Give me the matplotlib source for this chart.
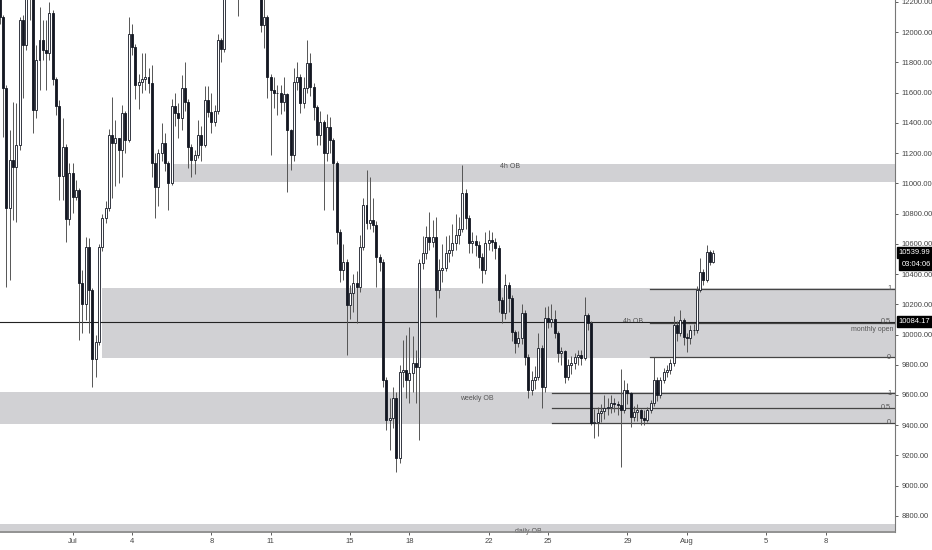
import numpy as np
import matplotlib
matplotlib.use("Agg")
import matplotlib.pyplot as plt

plt.rcParams['font.family'] = ['Liberation Sans', 'DejaVu Sans']

# 4h candles, first bar opens Jun 27 08:00; x is days since Jul 1 00:00
first_open = 12450
closes = [
    12100, 11630, 10836, 11154, 11107, 11253, 12079, 11914, 12250, 12300,
    11484, 11815, 11947, 11881, 11860, 12126, 11689, 11511, 11048, 11240,
    10764, 11068, 10909, 10955, 10341, 10202, 10579, 10294, 9838, 9951,
    10579, 10770, 10836, 11319, 11266, 11300, 11220, 11464, 11286, 11987,
    11900, 11650, 11670, 11690, 11700, 11660, 11134, 10975, 11200, 11266,
    11134, 11002, 11511, 11464, 11431, 11630, 11537, 11240, 11154, 11187,
    11319, 11253, 11551, 11471, 11405, 11478, 11947, 11890, 12300, 12450,
    12350, 12500, 12350, 12600, 12800, 12900, 12500, 12600, 12350, 12046,
    12099, 11703, 11617, 11600, 11597, 11537, 11590, 11352, 11187, 11670,
    11703, 11531, 11630, 11795, 11636, 11504, 11319, 11405, 11200, 11372,
    11286, 11134, 10678, 10426, 10479, 10195, 10274, 10341, 10314, 10579,
    10856, 10737, 10757, 10724, 10512, 10480, 9699, 9435, 9448, 9580,
    9183, 9752, 9765, 9699, 9745, 9812, 9785, 10473, 10539, 10645,
    10612, 10645, 10294, 10426, 10440, 10539, 10559, 10605, 10658, 10700,
    10936, 10770, 10605, 10618, 10592, 10512, 10426, 10605, 10625, 10612,
    10572, 10228, 10142, 10327, 10241, 10017, 9944, 9980, 10142, 9851,
    9633, 9699, 9719, 9911, 9653, 10109, 10083, 10100, 10010, 9878,
    9890, 9719, 9798, 9812, 9851, 9864, 9845, 10129, 10076, 9415,
    9421, 9481, 9494, 9514, 9520, 9547, 9540, 9534, 9501, 9633,
    9613, 9455, 9488, 9501, 9448, 9435, 9501, 9547, 9699, 9600,
    9699, 9752, 9765, 9812, 10063, 10010, 10096, 9983, 9977, 10030,
    10030, 10294, 10413, 10360, 10546, 10480, 10540,
]
highs = [
    12600, 12110, 11650, 11350, 11535, 11530, 12100, 12110, 12300, 12500,
    12350, 11914, 12166, 12079, 12079, 12199, 12146, 11700, 11551, 11431,
    11260, 11134, 11134, 11022, 10970, 10426, 10645, 10638, 10310, 10000,
    10600, 10800, 10880, 11360, 11570, 11420, 11300, 11520, 11480, 12100,
    12050, 11920, 11720, 11860, 11860, 11760, 11780, 11200, 11230, 11400,
    11330, 11150, 11560, 11600, 11530, 11715, 11800, 11560, 11260, 11220,
    11420, 11380, 11640, 11640, 11600, 11520, 11990, 11960, 12350, 12550,
    12500, 12600, 12550, 12700, 12900, 13100, 12950, 12700, 12650, 12400,
    12260, 12110, 11720, 11700, 11650, 11650, 11700, 11600, 11360, 11760,
    11800, 11720, 11700, 11950, 11860, 11660, 11520, 11480, 11420, 11460,
    11440, 11300, 11150, 10700, 10600, 10500, 10330, 10400, 10420, 10660,
    10900, 11088, 11040, 10900, 10750, 10530, 10500, 9720, 9580, 9650,
    9620, 9800, 9964, 10000, 10050, 9990, 9900, 10500, 10650, 10720,
    10810, 10760, 10777, 10500, 10600, 10650, 10660, 10730, 10800, 10780,
    11121, 10960, 10790, 10680, 10660, 10620, 10540, 10680, 10690, 10680,
    10640, 10590, 10250, 10400, 10350, 10260, 10030, 10020, 10200, 10160,
    9870, 9760, 9790, 10010, 9930, 10182, 10190, 10200, 10160, 10020,
    9920, 9900, 9840, 9860, 9880, 9900, 9900, 10248, 10140, 10090,
    9510, 9520, 9540, 9600, 9580, 9600, 9580, 9560, 9772, 9700,
    9680, 9620, 9530, 9540, 9510, 9500, 9520, 9570, 9851, 9720,
    9720, 9780, 9800, 9840, 10120, 10090, 10162, 10110, 10010, 10060,
    10070, 10320, 10506, 10430, 10592, 10560, 10560,
]
lows = [
    12050, 11306, 10314, 10360, 10757, 10744, 11220, 11564, 11880, 12079,
    11332, 11431, 11617, 11815, 11617, 11815, 11650, 11451, 10889, 10889,
    10612, 10724, 10803, 10889, 9964, 10010, 10096, 10010, 9653, 9719,
    9930, 10550, 10740, 10820, 10900, 10980, 11000, 11040, 11200, 11270,
    11850, 11560, 11490, 11600, 11620, 11600, 11040, 10770, 10850, 11150,
    11080, 10823, 10990, 11380, 11300, 11350, 11480, 11100, 11040, 11060,
    11170, 11150, 11240, 11440, 11330, 11380, 11460, 11805, 11870, 12250,
    12250, 12300, 12108, 12300, 12550, 12700, 12400, 12350, 12250, 12000,
    11897, 11564, 11187, 11500, 11450, 11460, 11480, 10942, 11088, 11150,
    11620, 11464, 11500, 11600, 11580, 11420, 11250, 11250, 10823, 11150,
    11200, 10823, 10600, 10350, 10360, 9864, 10100, 10150, 10076, 10280,
    10560, 10700, 10700, 10680, 10314, 10420, 9650, 9368, 9237, 9380,
    9091, 9150, 9650, 9580, 9550, 9620, 9550, 9302, 10430, 10500,
    10560, 10580, 10116, 10240, 10350, 10420, 10480, 10520, 10560, 10600,
    10680, 10700, 10540, 10540, 10520, 10440, 10340, 10400, 10560, 10550,
    10500, 10150, 10076, 10100, 10150, 9960, 9880, 9920, 9940, 9800,
    9580, 9600, 9640, 9700, 9514, 9620, 10040, 10050, 9980, 9820,
    9800, 9680, 9700, 9740, 9770, 9800, 9800, 9830, 10030, 9400,
    9316, 9330, 9420, 9440, 9470, 9480, 9490, 9470, 9124, 9480,
    9540, 9390, 9430, 9430, 9400, 9400, 9420, 9480, 9530, 9560,
    9580, 9680, 9720, 9740, 9790, 9960, 9990, 9930, 9884, 9940,
    10000, 10010, 10280, 10330, 10350, 10460, 10470,
]

date_ticks = [0, 3, 7, 10, 14, 17, 21, 24, 28, 31, 35, 38]
date_labels = ['Jul', '4', '8', '11', '15', '18', '22', '25', '29', 'Aug', '5', '8']

# supply / demand zones
zone_names = ['4h OB', '4h OB', 'weekly OB', 'daily OB']
zone_lo = [11008, 9845, 9408, 8640]
zone_hi = [11127, 10307, 9620, 8747]
zone_start = [5.07, 1.49, -4, -4]
label_day = [22.1, 28.3, 20.4, 23.0]
label_price = [11114, 10083, 9574, 8700]

monthly_open = 10084.17
fib_levels = [['1', 10301], ['0.5', 10076], ['0', 9851],
              ['1', 9613], ['0.5', 9514], ['0', 9415]]
fib_start = [29.15, 29.15, 29.15, 24.19, 24.19, 24.19]

last_price = 10539.99
countdown = '03:04:06'

opens = [first_open] + closes[:-1]
t = -3 - 2 / 3 + np.arange(len(closes)) / 6

fig = plt.figure(figsize=(9.32, 5.5), dpi=100)
ax = fig.add_axes([0, 18 / 550, 895 / 932, 532 / 550])
xmin, xmax = -3.66, 41.5
ymin, ymax = 8694, 12212

for lo, hi, st in zip(zone_lo, zone_hi, zone_start):
    ax.fill_between([st, xmax + 1], lo, hi, color='#d1d1d4', lw=0, zorder=1)
for name, d, p in zip(zone_names, label_day, label_price):
    ax.text(d, p, name, fontsize=5, color='#555555', ha='center', va='center', zorder=2)

ax.axhline(monthly_open, color='#222222', lw=0.8, zorder=3)
ax.text(41.4, monthly_open - 48, 'monthly open', fontsize=5, color='#555555',
        ha='right', va='center', zorder=3)
for (lab, lvl), st in zip(fib_levels, fib_start):
    ax.plot([st, xmax], [lvl, lvl], color='#444444', lw=0.9, zorder=3)
    ax.text(41.3, lvl + (10 if lab == '0.5' and lvl > 10000 else 0), lab, fontsize=5.2,
            color='#555555', ha='right', va='center', zorder=4)

o = np.array(opens, float)
c = np.array(closes, float)
h = np.maximum(np.array(highs, float), np.maximum(o, c))
l = np.minimum(np.array(lows, float), np.minimum(o, c))
up = c >= o
ax.vlines(t, l, h, color='#555555', lw=0.7, zorder=5)
ax.bar(t[up], (c - o)[up], bottom=o[up], width=0.1, color='white',
       edgecolor='#131722', lw=0.6, zorder=6)
ax.bar(t[~up], (o - c)[~up], bottom=c[~up], width=0.1, color='#131722',
       edgecolor='#131722', lw=0.6, zorder=6)

ax.set_xlim(xmin, xmax)
ax.set_ylim(ymin, ymax)
ax.set_xticks(date_ticks)
ax.set_xticklabels(date_labels)
ax.set_yticks(np.arange(8800, 12201, 200))
ax.set_yticklabels([f'{v:.2f}' for v in np.arange(8800, 12201, 200)])
ax.yaxis.tick_right()
ax.tick_params(axis='both', labelsize=5.5, colors='#444444', length=2.5, width=0.6, pad=2)
for side in ['top', 'left']:
    ax.spines[side].set_visible(False)
ax.spines['right'].set_color('#777777')
ax.spines['bottom'].set_color('#888888')
ax.spines['bottom'].set_linewidth(1.2)

tag = dict(boxstyle='square,pad=0.25', fc='black', ec='black')
ax.annotate(f'{last_price:.2f}', xy=(1.0, last_price), xycoords=('axes fraction', 'data'),
            xytext=(2.5, 0), textcoords='offset points', fontsize=5.5, color='white',
            va='center', ha='left', bbox=tag, annotation_clip=False)
ax.annotate(countdown, xy=(1.0, last_price), xycoords=('axes fraction', 'data'),
            xytext=(4.5, -8.5), textcoords='offset points', fontsize=5.5, color='white',
            va='center', ha='left', bbox=tag, annotation_clip=False)
ax.annotate(f'{monthly_open:.2f}', xy=(1.0, monthly_open), xycoords=('axes fraction', 'data'),
            xytext=(2.5, 0), textcoords='offset points', fontsize=5.5, color='white',
            va='center', ha='left', bbox=tag, annotation_clip=False)

fig.savefig('out.png', dpi=100)
